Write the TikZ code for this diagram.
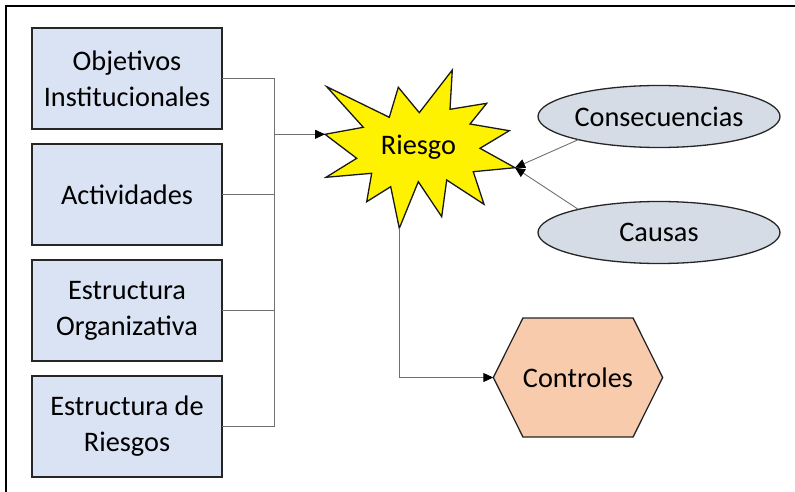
\documentclass[tikz,border=0pt]{standalone}
\usepackage{fontspec}
\setmainfont{Carlito}
\usepackage{tikz}
\usetikzlibrary{positioning}
\usetikzlibrary{shapes.geometric}
\usetikzlibrary{shapes.symbols}
\usetikzlibrary{arrows.meta}

\definecolor{boxblue}{HTML}{DAE3F3}
\definecolor{ellgray}{HTML}{D6DCE5}
\definecolor{hexpeach}{HTML}{F8CBAD}
\definecolor{linegray}{HTML}{707070}

\begin{document}
\begin{tikzpicture}[x=1pt, y=-1pt,
                          boxnode/.style={rectangle, draw=black!85, fill=boxblue, line width=1.3pt, minimum width=190pt, minimum height=101pt, align=center, inner sep=0pt, outer sep=0pt, font=\fontsize{28.3}{36}\selectfont},
                          ellnode/.style={ellipse, draw=black!85, fill=ellgray, line width=1.3pt, minimum width=242pt, minimum height=62pt, inner sep=0pt, outer sep=0pt, font=\fontsize{28.3}{36}\selectfont},
                          hexnode/.style={signal, signal to=west and east, signal pointer angle=127, draw=black!85, fill=hexpeach, line width=1.3pt, minimum width=162pt, minimum height=119pt, inner sep=0pt, outer sep=0pt, font=\fontsize{28.3}{36}\selectfont},
                          starshape/.style={draw=black!90, fill=yellow, line width=1.3pt, line join=miter},
                          conn/.style={draw=linegray, line width=0.9pt},
                          arr/.style={-{Triangle[length=10pt, width=9pt, color=black]}},
                      ]
                      \useasboundingbox (0,0) rectangle (795,492);
                      % Frame
                      \draw[line width=1.5pt] (795,6) -- (6,6) -- (6,492);

                      % Nodes
                      \node[boxnode]        (obj_inst)       at (127,78.5)                 {Objetivos\\Institucionales};
                      \node[boxnode]        (actividades)    [below=15pt of obj_inst]      {Actividades};
                      \node[boxnode]        (estr_org)       [below=15pt of actividades]   {Estructura\\Organizativa};
                      \node[boxnode]        (estr_riesgos)   [below=15pt of estr_org]      {Estructura de\\Riesgos};

                      \draw[starshape] (326.7,86.7) -- (389.3,117.3) -- (398.3,87.3) -- (419.3,112.7) -- (452.3,70) -- (450,109.3) -- (486.7,103.3) -- (470,124) -- (509.3,130.7) -- (480,148.3) -- (515,167.7) -- (473.3,171.7) -- (484,204.3) -- (446.7,180) -- (441.7,216.7) -- (418.3,181.7) -- (399.3,228.3) -- (390.7,186.7) -- (366.7,201.7) -- (371.7,173.3) -- (326,177.3) -- (356.7,158.3) -- (325,134.3) -- (363.3,127.3) -- cycle;
                      \node[font=\fontsize{28.3}{36}\selectfont] (riesgo) at (418.5,147) {Riesgo};
                      \coordinate (riesgo_w) at (325,134.3);
                      \coordinate (riesgo_e) at (515,167.7);
                      \coordinate (riesgo_s) at (399.3,228.3);

                      \node[ellnode]        (consecuencias)  at (659,116.5)                {Consecuencias};
                      \node[ellnode]        (causas)         [below=54pt of consecuencias] {Causas};

                      \node[hexnode]        (controles)      at (578,377.5)                {Controles};

                      \coordinate (bus) at (274,134.3);

                      %Lines
                      \draw[conn] (obj_inst.east) -| (bus);
                      \draw[conn] (actividades.east) -| (bus);
                      \draw[conn] (estr_org.east) -| (bus);
                      \draw[conn] (estr_riesgos.east) -| (bus);
                      \draw[conn, arr] (bus) -- (riesgo_w);
                      \draw[conn, arr] (consecuencias.196) -- (riesgo_e);
                      \draw[conn, arr] (causas.164) -- (riesgo_e);
                      \draw[conn, arr] (riesgo_s) |- (controles.west);
                  \end{tikzpicture}
\end{document}
